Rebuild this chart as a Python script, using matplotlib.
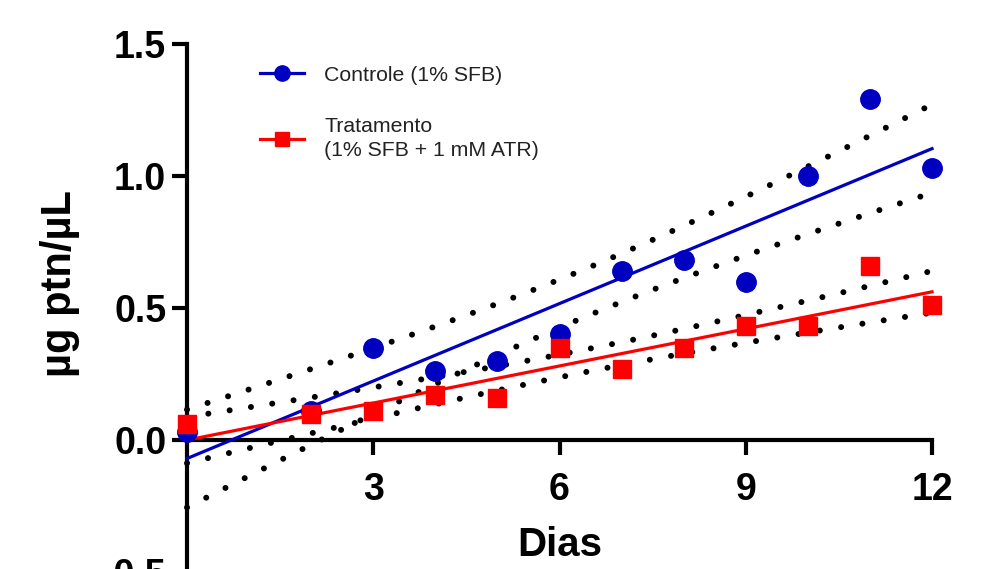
import numpy as np
import matplotlib
matplotlib.use("Agg")
import matplotlib.pyplot as plt
from matplotlib.lines import Line2D

# dados
dias = [0, 2, 3, 4, 5, 6, 7, 8, 9, 10, 11, 12]
controle = [0.03, 0.11, 0.35, 0.26, 0.30, 0.40, 0.64, 0.68, 0.60, 1.00, 1.29, 1.03]
tratamento = [0.06, 0.10, 0.11, 0.17, 0.16, 0.35, 0.27, 0.35, 0.43, 0.43, 0.66, 0.51]
labels = ["Controle (1% SFB)", "Tratamento\n(1% SFB + 1 mM ATR)"]
yticks = [-0.5, 0.0, 0.5, 1.0, 1.5]
xticks = [3, 6, 9, 12]

BLUE = "#0000C0"
RED = "#FF0000"
T_975_10 = 2.228  # t crítico 95%, 10 g.l.

plt.rcParams["font.family"] = ["Liberation Sans", "DejaVu Sans"]


def regressao(x, y):
    """reta de regressão linear + banda de confiança 95%"""
    x = np.asarray(x, float)
    y = np.asarray(y, float)
    b, a = np.polyfit(x, y, 1)
    res = y - (a + b * x)
    s = np.sqrt(np.sum(res ** 2) / (len(x) - 2))
    sxx = np.sum((x - x.mean()) ** 2)
    xx = np.linspace(0, 12, 100)
    yy = a + b * xx
    ci = T_975_10 * s * np.sqrt(1 / len(x) + (xx - x.mean()) ** 2 / sxx)
    return xx, yy, yy - ci, yy + ci


fig = plt.figure(figsize=(9.86, 5.69), dpi=100)
ax = fig.add_axes([187 / 986, -3 / 569, 745 / 986, 528 / 569])

dot_style = dict(color="black", lw=4.3, linestyle=(0, (0.01, 3.6)),
                 dash_capstyle="round", clip_on=False, zorder=2)

for y, cor, mk in [(controle, BLUE, "o"), (tratamento, RED, "s")]:
    xx, yy, lo, hi = regressao(dias, y)
    ax.plot(xx, lo, **dot_style)
    ax.plot(xx, hi, **dot_style)
    ax.plot(xx, yy, color=cor, lw=2.3, clip_on=False, zorder=3)
    ax.plot(dias, y, linestyle="none", marker=mk, color=cor,
            ms=14 if mk == "o" else 13, clip_on=False, zorder=4)

ax.set_xlim(0, 12)
ax.set_ylim(-0.5, 1.5)
ax.set_xticks(xticks)
ax.set_yticks(yticks)
ax.set_yticklabels([f"{v:.1f}" for v in yticks])

for side in ["top", "right"]:
    ax.spines[side].set_visible(False)
ax.spines["bottom"].set_position(("data", 0))
ax.spines["left"].set_linewidth(3)
ax.spines["bottom"].set_linewidth(3)

ax.tick_params(axis="both", width=3, length=11, labelsize=27)
ax.tick_params(axis="x", pad=12)
ax.tick_params(axis="y", pad=4)
for t in ax.get_xticklabels() + ax.get_yticklabels():
    t.set_fontweight("bold")

ax.set_xlabel("Dias", fontsize=29, fontweight="bold")
ax.xaxis.set_label_coords(0.5, 0.051)
ax.xaxis.label.set_va("center")
ax.set_ylabel("µg ptn/µL", fontsize=30, fontweight="bold")
ax.yaxis.set_label_coords(-0.17, 0.547)
ax.yaxis.label.set_va("center")

handles = [
    Line2D([], [], color=BLUE, marker="o", lw=2.3, ms=11),
    Line2D([], [], color=RED, marker="s", lw=2.3, ms=10),
]
leg = fig.legend(handles, labels, loc="upper left",
                 bbox_to_anchor=(249 / 986, 1 - 55 / 569),
                 frameon=False, fontsize=15.3, borderpad=0,
                 handlelength=2.1, handletextpad=0.95, labelspacing=1.5)
for t in leg.get_texts():
    t.set_linespacing(1.4)
    t.set_color("#222222")

fig.savefig("out.png", dpi=100, facecolor="white")
